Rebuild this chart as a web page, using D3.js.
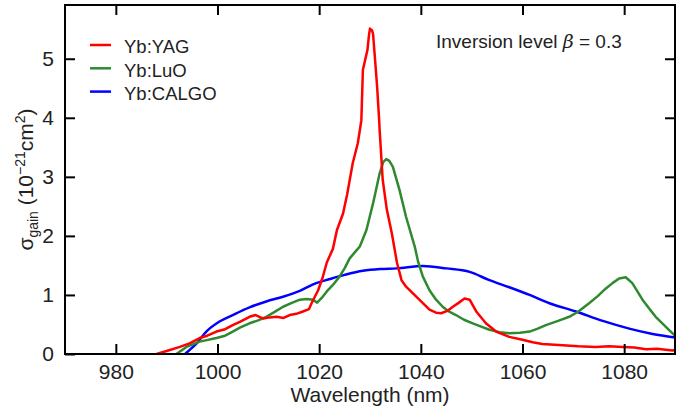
<!DOCTYPE html>
<html>
<head>
<meta charset="utf-8">
<script src="https://cdn.jsdelivr.net/npm/d3@7"></script>
<style>
  body { margin: 0; background: #fff; }
  svg { display: block; font-family: "Liberation Sans", Arial, sans-serif; }
</style>
</head>
<body>
<svg width="676" height="411"></svg>
<script>
// series: [wavelength (nm), gain cross-section (1e-21 cm^2)]
var yag = [[988,0],[990,0.05],[992.6,0.12],[994.5,0.18],[996.5,0.27],[998,0.31],[999.8,0.38],[1001.5,0.42],[1003,0.49],[1004.5,0.55],[1006.3,0.63],[1007.5,0.66],[1009,0.6],[1010.3,0.62],[1011.6,0.63],[1013,0.61],[1014.2,0.66],[1015.5,0.68],[1016.8,0.72],[1018,0.76],[1018.5,0.86],[1019.8,1.08],[1020.7,1.3],[1021.5,1.55],[1022.7,1.78],[1023.5,2.1],[1024.7,2.38],[1025.5,2.7],[1026.6,3.23],[1027.6,3.57],[1028,3.79],[1028.3,3.96],[1028.6,4.81],[1029.1,5.0],[1029.5,5.15],[1029.8,5.4],[1030,5.51],[1030.4,5.48],[1030.6,5.42],[1030.9,5.09],[1031.4,4.53],[1031.8,3.96],[1031.9,3.79],[1032.5,2.95],[1033.3,2.45],[1034.3,2.04],[1035.3,1.55],[1036.2,1.25],[1037.1,1.14],[1039.1,0.97],[1040.4,0.86],[1041.7,0.75],[1043,0.7],[1044,0.69],[1045.2,0.73],[1046.3,0.8],[1047.5,0.87],[1048.6,0.94],[1049.6,0.92],[1050.9,0.72],[1052.8,0.52],[1054.8,0.38],[1057.4,0.29],[1060,0.24],[1062,0.2],[1063.9,0.17],[1067.9,0.15],[1071,0.13],[1074.4,0.12],[1077,0.13],[1079.7,0.12],[1082,0.11],[1084.3,0.08],[1086.5,0.09],[1089.5,0.06],[1090,0.07]];

var luo = [[991.9,0],[993.9,0.12],[996.5,0.21],[999.8,0.27],[1001.5,0.31],[1003,0.38],[1004.5,0.45],[1006.3,0.52],[1008,0.57],[1009.6,0.63],[1011,0.7],[1012.9,0.8],[1014.5,0.86],[1016.2,0.92],[1017.5,0.93],[1018.8,0.92],[1019.6,0.87],[1020.5,0.95],[1021.5,1.06],[1022.7,1.17],[1024,1.31],[1025,1.45],[1026,1.62],[1027,1.72],[1028,1.82],[1029.3,2.1],[1030.6,2.55],[1031.9,3.06],[1032.6,3.25],[1033.2,3.3],[1033.8,3.27],[1034.5,3.17],[1035.8,2.78],[1037.1,2.32],[1038.8,1.82],[1039.5,1.55],[1040.4,1.31],[1041.7,1.08],[1043,0.92],[1044.3,0.8],[1045.5,0.72],[1046.9,0.66],[1048.5,0.58],[1050.2,0.52],[1052,0.46],[1053.5,0.41],[1055.5,0.37],[1057.4,0.35],[1059.5,0.36],[1061.4,0.38],[1063,0.43],[1064.6,0.49],[1067,0.56],[1069.2,0.63],[1071,0.72],[1073.1,0.86],[1074.8,0.98],[1076.4,1.11],[1077.7,1.2],[1079,1.28],[1080.3,1.3],[1081.6,1.2],[1082.6,1.06],[1083.6,0.92],[1085,0.76],[1086.2,0.63],[1087.5,0.52],[1088.8,0.41],[1090,0.31]];

var calgo = [[993.6,0],[994.8,0.09],[995.9,0.18],[997.8,0.38],[1000.4,0.55],[1003,0.66],[1006.3,0.79],[1009.6,0.89],[1012.9,0.97],[1016.2,1.07],[1019.4,1.2],[1022.1,1.27],[1025,1.34],[1028.6,1.41],[1032,1.44],[1035.2,1.45],[1040.4,1.49],[1045,1.45],[1049.6,1.39],[1053.5,1.25],[1057.4,1.13],[1061.4,1.0],[1065.3,0.86],[1070.5,0.72],[1075.8,0.56],[1081,0.43],[1085.6,0.34],[1090,0.28]];

var seriesNames = ["Yb:YAG", "Yb:LuO", "Yb:CALGO"];
var seriesColors = ["#ff0000", "#2f8a2f", "#0000ff"];
var xTicks = [980, 1000, 1020, 1040, 1060, 1080];
var yTicks = [0, 1, 2, 3, 4, 5];

var svg = d3.select("svg");
var pLeft = 65, pRight = 675, pTop = 5, pBottom = 354;

var x = d3.scaleLinear().domain([970, 1090]).range([pLeft, pRight]);
var y = d3.scaleLinear().domain([0, 5.91]).range([pBottom, pTop]);

svg.append("clipPath").attr("id", "plotclip")
  .append("rect").attr("x", pLeft).attr("y", pTop)
  .attr("width", pRight - pLeft).attr("height", pBottom - pTop);

// curves
var line = d3.line().x(function(d) { return x(d[0]); }).y(function(d) { return y(d[1]); });
var smooth = d3.line().curve(d3.curveMonotoneX)
  .x(function(d) { return x(d[0]); }).y(function(d) { return y(d[1]); });

var g = svg.append("g").attr("clip-path", "url(#plotclip)");
g.append("path").datum(calgo).attr("d", smooth)
  .attr("fill", "none").attr("stroke", seriesColors[2]).attr("stroke-width", 2.5);
g.append("path").datum(luo).attr("d", line)
  .attr("fill", "none").attr("stroke", seriesColors[1]).attr("stroke-width", 2.5)
  .attr("stroke-linejoin", "round");
g.append("path").datum(yag).attr("d", line)
  .attr("fill", "none").attr("stroke", seriesColors[0]).attr("stroke-width", 2.5)
  .attr("stroke-linejoin", "round");

// axes, ticks pointing inward on all four sides
function styleAxis(sel, fs) {
  sel.select(".domain").remove();
  sel.selectAll(".tick line").attr("stroke", "#000").attr("stroke-width", 2);
  sel.selectAll(".tick text").attr("fill", "#222").style("font-size", fs + "px")
    .style("font-family", "'Liberation Sans', Arial, sans-serif");
}

svg.append("g").attr("transform", "translate(0," + pBottom + ")")
  .call(d3.axisBottom(x).tickValues(xTicks).tickFormat(d3.format("d"))
    .tickSizeInner(-10).tickSizeOuter(0).tickPadding(10))
  .call(styleAxis, 21);
svg.append("g").attr("transform", "translate(0," + pTop + ")")
  .call(d3.axisTop(x).tickValues(xTicks).tickSizeInner(-10).tickSizeOuter(0).tickFormat(""))
  .call(styleAxis, 21);
svg.append("g").attr("transform", "translate(" + pLeft + ",0)")
  .call(d3.axisLeft(y).tickValues(yTicks).tickFormat(d3.format("d"))
    .tickSizeInner(-10).tickSizeOuter(0).tickPadding(11))
  .call(styleAxis, 21);
svg.append("g").attr("transform", "translate(" + pRight + ",0)")
  .call(d3.axisRight(y).tickValues(yTicks.slice(1)).tickSizeInner(-10).tickSizeOuter(0).tickFormat(""))
  .call(styleAxis, 21);

svg.append("rect").attr("x", pLeft).attr("y", pTop)
  .attr("width", pRight - pLeft).attr("height", pBottom - pTop)
  .attr("fill", "none").attr("stroke", "#000").attr("stroke-width", 2);

// axis titles
svg.append("text").attr("x", (pLeft + pRight) / 2).attr("y", 402)
  .attr("text-anchor", "middle").attr("fill", "#222").style("font-size", "21px")
  .text("Wavelength (nm)");

var yl = svg.append("text")
  .attr("transform", "translate(33," + ((pTop + pBottom) / 2) + ") rotate(-90)")
  .attr("text-anchor", "middle").attr("fill", "#222").style("font-size", "21px");
yl.append("tspan").text("σ");
yl.append("tspan").attr("dy", 5).style("font-size", "14px").text("gain");
yl.append("tspan").attr("dy", -5).text(" (10");
yl.append("tspan").attr("dy", -8).style("font-size", "14px").text("−21");
yl.append("tspan").attr("dy", 8).text("cm");
yl.append("tspan").attr("dy", -8).style("font-size", "14px").text("2");
yl.append("tspan").attr("dy", 8).text(")");

// annotation
var ann = svg.append("text").attr("x", 436).attr("y", 47.5)
  .attr("fill", "#222").style("font-size", "19px");
ann.append("tspan").text("Inversion level ");
ann.append("tspan").style("font-style", "italic").style("font-family", "'DejaVu Serif', serif").text("β");
ann.append("tspan").text(" = 0.3");

// legend
var leg = svg.append("g");
seriesNames.forEach(function(name, i) {
  var cy = 45 + i * 23.3;
  leg.append("line").attr("x1", 90).attr("x2", 111).attr("y1", cy).attr("y2", cy)
    .attr("stroke", seriesColors[i]).attr("stroke-width", 2.5);
  leg.append("text").attr("x", 124).attr("y", cy + 8.3)
    .attr("fill", "#222").style("font-size", "18.5px").text(name);
});
</script>
</body>
</html>
